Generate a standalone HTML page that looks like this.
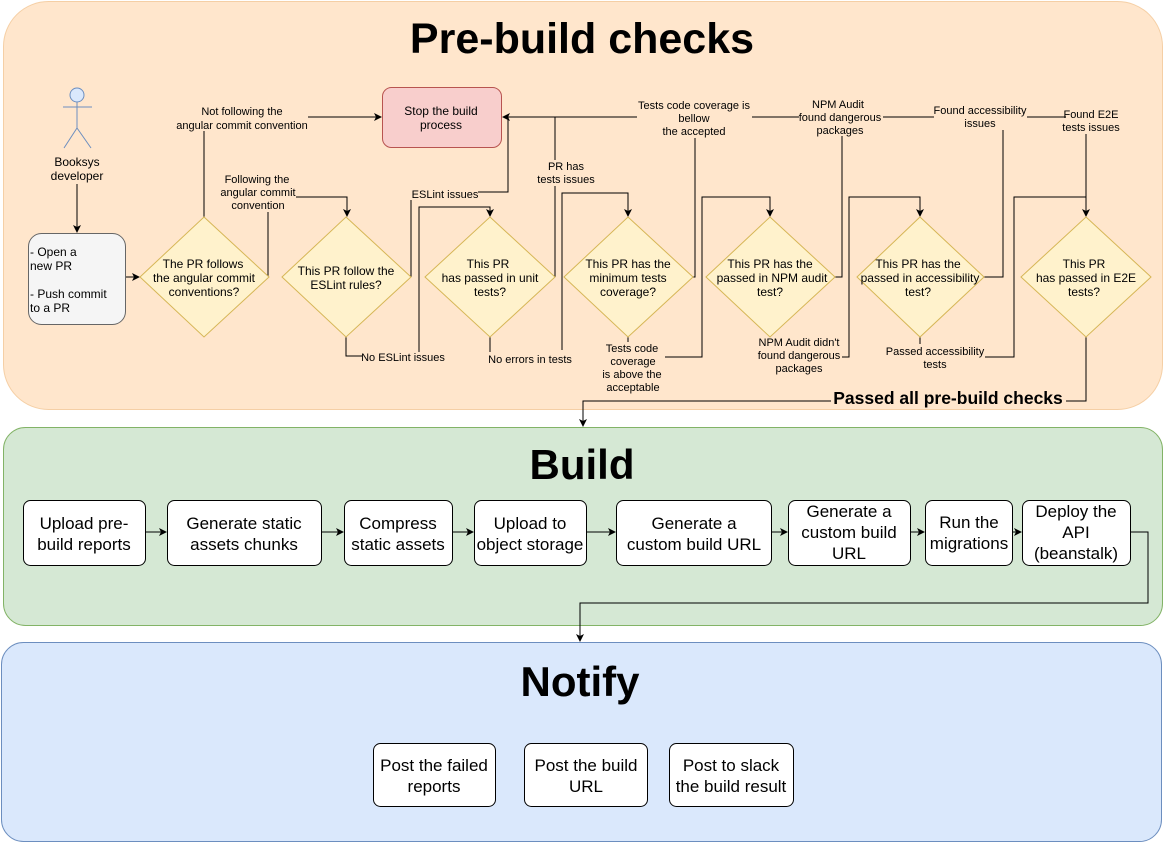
<!DOCTYPE html>
<html><head><meta charset="utf-8"><style>
html,body{margin:0;padding:0;background:#fff}
svg{display:block}
text{font-family:"Liberation Sans",Arial,sans-serif;fill:#000}
.s{font-size:11px}
.m{font-size:12px}
.b{font-size:17px}
</style></head><body>
<svg width="1164" height="843" viewBox="0 0 1164 843" xmlns="http://www.w3.org/2000/svg">
<defs><marker id="a" markerWidth="8" markerHeight="8" refX="7" refY="4" orient="auto" markerUnits="userSpaceOnUse"><path d="M0,0 L8,4 L0,8 L2,4 Z" fill="#000"/></marker></defs>
<rect x="3.5" y="1.5" width="1159" height="408" rx="45" fill="#ffe6cc" stroke="#f5cfa5"/>
<rect x="3.5" y="427.5" width="1159" height="198" rx="22" fill="#d5e8d4" stroke="#82b366"/>
<rect x="1.5" y="642.5" width="1160" height="199" rx="22" fill="#dae8fc" stroke="#6c8ebf"/>
<text x="582" y="53" font-size="43" font-weight="bold" text-anchor="middle">Pre-build checks</text>
<text x="582" y="479" font-size="42" font-weight="bold" text-anchor="middle">Build</text>
<text x="580" y="696" font-size="42" font-weight="bold" text-anchor="middle">Notify</text>

<g fill="none" stroke="#000" stroke-width="1">
<circle cx="77" cy="95" r="7" fill="#dae8fc" stroke="#6c8ebf"/>
<path d="M77,102 V128 M63,107 H92 M77,128 L64,148 M77,128 L91,148" stroke="#6c8ebf"/>
<path d="M77,184 V232" marker-end="url(#a)"/>
<path d="M126,277 H139" marker-end="url(#a)"/>
<path d="M204,217 V131"/>
<path d="M308,117 H381" marker-end="url(#a)"/>
<path d="M268,277 V212"/>
<path d="M296,197 H347 V216" marker-end="url(#a)"/>
<path d="M411,277 V200"/>
<path d="M478,192 H508 V117 H503" marker-end="url(#a)"/>
<path d="M346,337 V356 H362"/>
<path d="M419,352 V207 H490 V216" marker-end="url(#a)"/>
<path d="M555,277 V186 M555,160 V117"/>
<path d="M490,337 V352"/>
<path d="M562,350 V193 H628 V216" marker-end="url(#a)"/>
<path d="M503,117 H637 M752,117 H799 M883,117 H934 M1027,117 H1066"/>
<path d="M693,277 H695 V138"/>
<path d="M628,337 V342"/>
<path d="M665,357 H702 V197 H770 V216" marker-end="url(#a)"/>
<path d="M835,277 H842 V136"/>
<path d="M842,357 H849 V197 H920 V216" marker-end="url(#a)"/>
<path d="M984,277 H1003 V130"/>
<path d="M920,337 V344"/>
<path d="M985,357 H1014 V197 H1086"/>
<path d="M1086,134 V216" marker-end="url(#a)"/>
<path d="M1086,337 V401 H1066"/>
<path d="M831,401 H583 V426" marker-end="url(#a)"/>
<path d="M145,532 H166" marker-end="url(#a)"/>
<path d="M321,532 H343" marker-end="url(#a)"/>
<path d="M452,532 H473" marker-end="url(#a)"/>
<path d="M586,532 H615" marker-end="url(#a)"/>
<path d="M771,532 H787" marker-end="url(#a)"/>
<path d="M910,532 H924" marker-end="url(#a)"/>
<path d="M1012,532 H1021" marker-end="url(#a)"/>
<path d="M1130,532 H1148 V603 H580 V641" marker-end="url(#a)"/>
</g>

<text class="m" text-anchor="middle"><tspan x="77" y="166">Booksys</tspan><tspan x="77" y="180">developer</tspan></text>
<rect x="28.5" y="233.5" width="97" height="91" rx="13" fill="#f5f5f5" stroke="#666"/>
<text class="m"><tspan x="30" y="256">- Open a</tspan><tspan x="30" y="270">new PR</tspan><tspan x="30" y="298">- Push commit</tspan><tspan x="30" y="312">to a PR</tspan></text>

<rect x="382.5" y="87.5" width="119" height="60" rx="9" fill="#f8cecc" stroke="#b85450"/>
<text class="m" text-anchor="middle"><tspan x="441" y="115">Stop the build</tspan><tspan x="441" y="129">process</tspan></text>

<g fill="#fff2cc" stroke="#d6b656">
<path d="M204,217 L269,277 L204,337 L140,277 Z"/>
<path d="M346,217 L411,277 L346,337 L282,277 Z"/>
<path d="M490,217 L555,277 L490,337 L425,277 Z"/>
<path d="M628,217 L693,277 L628,337 L564,277 Z"/>
<path d="M770,217 L835,277 L770,337 L706,277 Z"/>
<path d="M920,217 L984,277 L920,337 L857,277 Z"/>
<path d="M1086,217 L1151,277 L1086,337 L1021,277 Z"/>
</g>
<g class="m" text-anchor="middle">
<text><tspan x="203" y="268">The PR follows</tspan><tspan x="204" y="282">the angular commit</tspan><tspan x="204" y="296">conventions?</tspan></text>
<text><tspan x="346" y="275">This PR follow the</tspan><tspan x="346" y="289">ESLint rules?</tspan></text>
<text><tspan x="488" y="268">This PR</tspan><tspan x="490" y="282">has passed in unit</tspan><tspan x="490" y="296">tests?</tspan></text>
<text><tspan x="628" y="268">This PR has the</tspan><tspan x="628" y="282">minimum tests</tspan><tspan x="628" y="296">coverage?</tspan></text>
<text><tspan x="770" y="268">This PR has the</tspan><tspan x="772" y="282">passed in NPM audit</tspan><tspan x="770" y="296">test?</tspan></text>
<text><tspan x="918" y="268">This PR has the</tspan><tspan x="920" y="282">passed in accessibility</tspan><tspan x="918" y="296">test?</tspan></text>
<text><tspan x="1084" y="268">This PR</tspan><tspan x="1086" y="282">has passed in E2E</tspan><tspan x="1084" y="296">tests?</tspan></text>
</g>
<g class="s" text-anchor="middle">
<text><tspan x="242" y="115">Not following the</tspan><tspan x="242" y="129">angular commit convention</tspan></text>
<text><tspan x="257" y="183">Following the</tspan><tspan x="258" y="196">angular commit</tspan><tspan x="258" y="209">convention</tspan></text>
<text x="445" y="198">ESLint issues</text>
<text x="403" y="361">No ESLint issues</text>
<text><tspan x="566" y="170">PR has</tspan><tspan x="566" y="183">tests issues</tspan></text>
<text x="530" y="363">No errors in tests</text>
<text><tspan x="694" y="109">Tests code coverage is</tspan><tspan x="694" y="122">bellow</tspan><tspan x="694" y="135">the accepted</tspan></text>
<text><tspan x="632" y="352">Tests code</tspan><tspan x="633" y="365">coverage</tspan><tspan x="632" y="378">is above the</tspan><tspan x="633" y="391">acceptable</tspan></text>
<text><tspan x="838" y="108">NPM Audit</tspan><tspan x="840" y="121">found dangerous</tspan><tspan x="840" y="134">packages</tspan></text>
<text><tspan x="799" y="346">NPM Audit didn't</tspan><tspan x="799" y="359">found dangerous</tspan><tspan x="799" y="372">packages</tspan></text>
<text><tspan x="980" y="114">Found accessibility</tspan><tspan x="980" y="127">issues</tspan></text>
<text><tspan x="935" y="355">Passed accessibility</tspan><tspan x="935" y="368">tests</tspan></text>
<text><tspan x="1091" y="118">Found E2E</tspan><tspan x="1091" y="131">tests issues</tspan></text>
</g>
<text x="948" y="404" font-size="17.5" font-weight="bold" text-anchor="middle">Passed all pre-build checks</text>

<g fill="#fff" stroke="#000">
<rect x="23.5" y="500.5" width="122" height="65" rx="7"/>
<rect x="167.5" y="500.5" width="154" height="65" rx="7"/>
<rect x="344.5" y="500.5" width="108" height="65" rx="7"/>
<rect x="474.5" y="500.5" width="112" height="65" rx="7"/>
<rect x="616.5" y="500.5" width="155" height="65" rx="7"/>
<rect x="788.5" y="500.5" width="122" height="65" rx="7"/>
<rect x="925.5" y="500.5" width="87" height="65" rx="7"/>
<rect x="1022.5" y="500.5" width="108" height="65" rx="7"/>
<rect x="373.5" y="743.5" width="122" height="63" rx="7"/>
<rect x="524.5" y="743.5" width="123" height="63" rx="7"/>
<rect x="669.5" y="743.5" width="124" height="63" rx="7"/>
</g>
<g class="b" text-anchor="middle">
<text><tspan x="84" y="529">Upload pre-</tspan><tspan x="84" y="550">build reports</tspan></text>
<text><tspan x="244" y="529">Generate static</tspan><tspan x="244" y="550">assets chunks</tspan></text>
<text><tspan x="398" y="529">Compress</tspan><tspan x="398" y="550">static assets</tspan></text>
<text><tspan x="530" y="529">Upload to</tspan><tspan x="530" y="550">object storage</tspan></text>
<text><tspan x="694" y="529">Generate a</tspan><tspan x="694" y="550">custom build URL</tspan></text>
<text><tspan x="849" y="517">Generate a</tspan><tspan x="849" y="538">custom build</tspan><tspan x="849" y="559">URL</tspan></text>
<text><tspan x="969" y="528">Run the</tspan><tspan x="969" y="549">migrations</tspan></text>
<text><tspan x="1076" y="517">Deploy the</tspan><tspan x="1076" y="538">API</tspan><tspan x="1076" y="559">(beanstalk)</tspan></text>
<text><tspan x="434" y="771">Post the failed</tspan><tspan x="434" y="792">reports</tspan></text>
<text><tspan x="586" y="771">Post the build</tspan><tspan x="586" y="792">URL</tspan></text>
<text><tspan x="731" y="771">Post to slack</tspan><tspan x="731" y="792">the build result</tspan></text>
</g>
</svg>
</body></html>
